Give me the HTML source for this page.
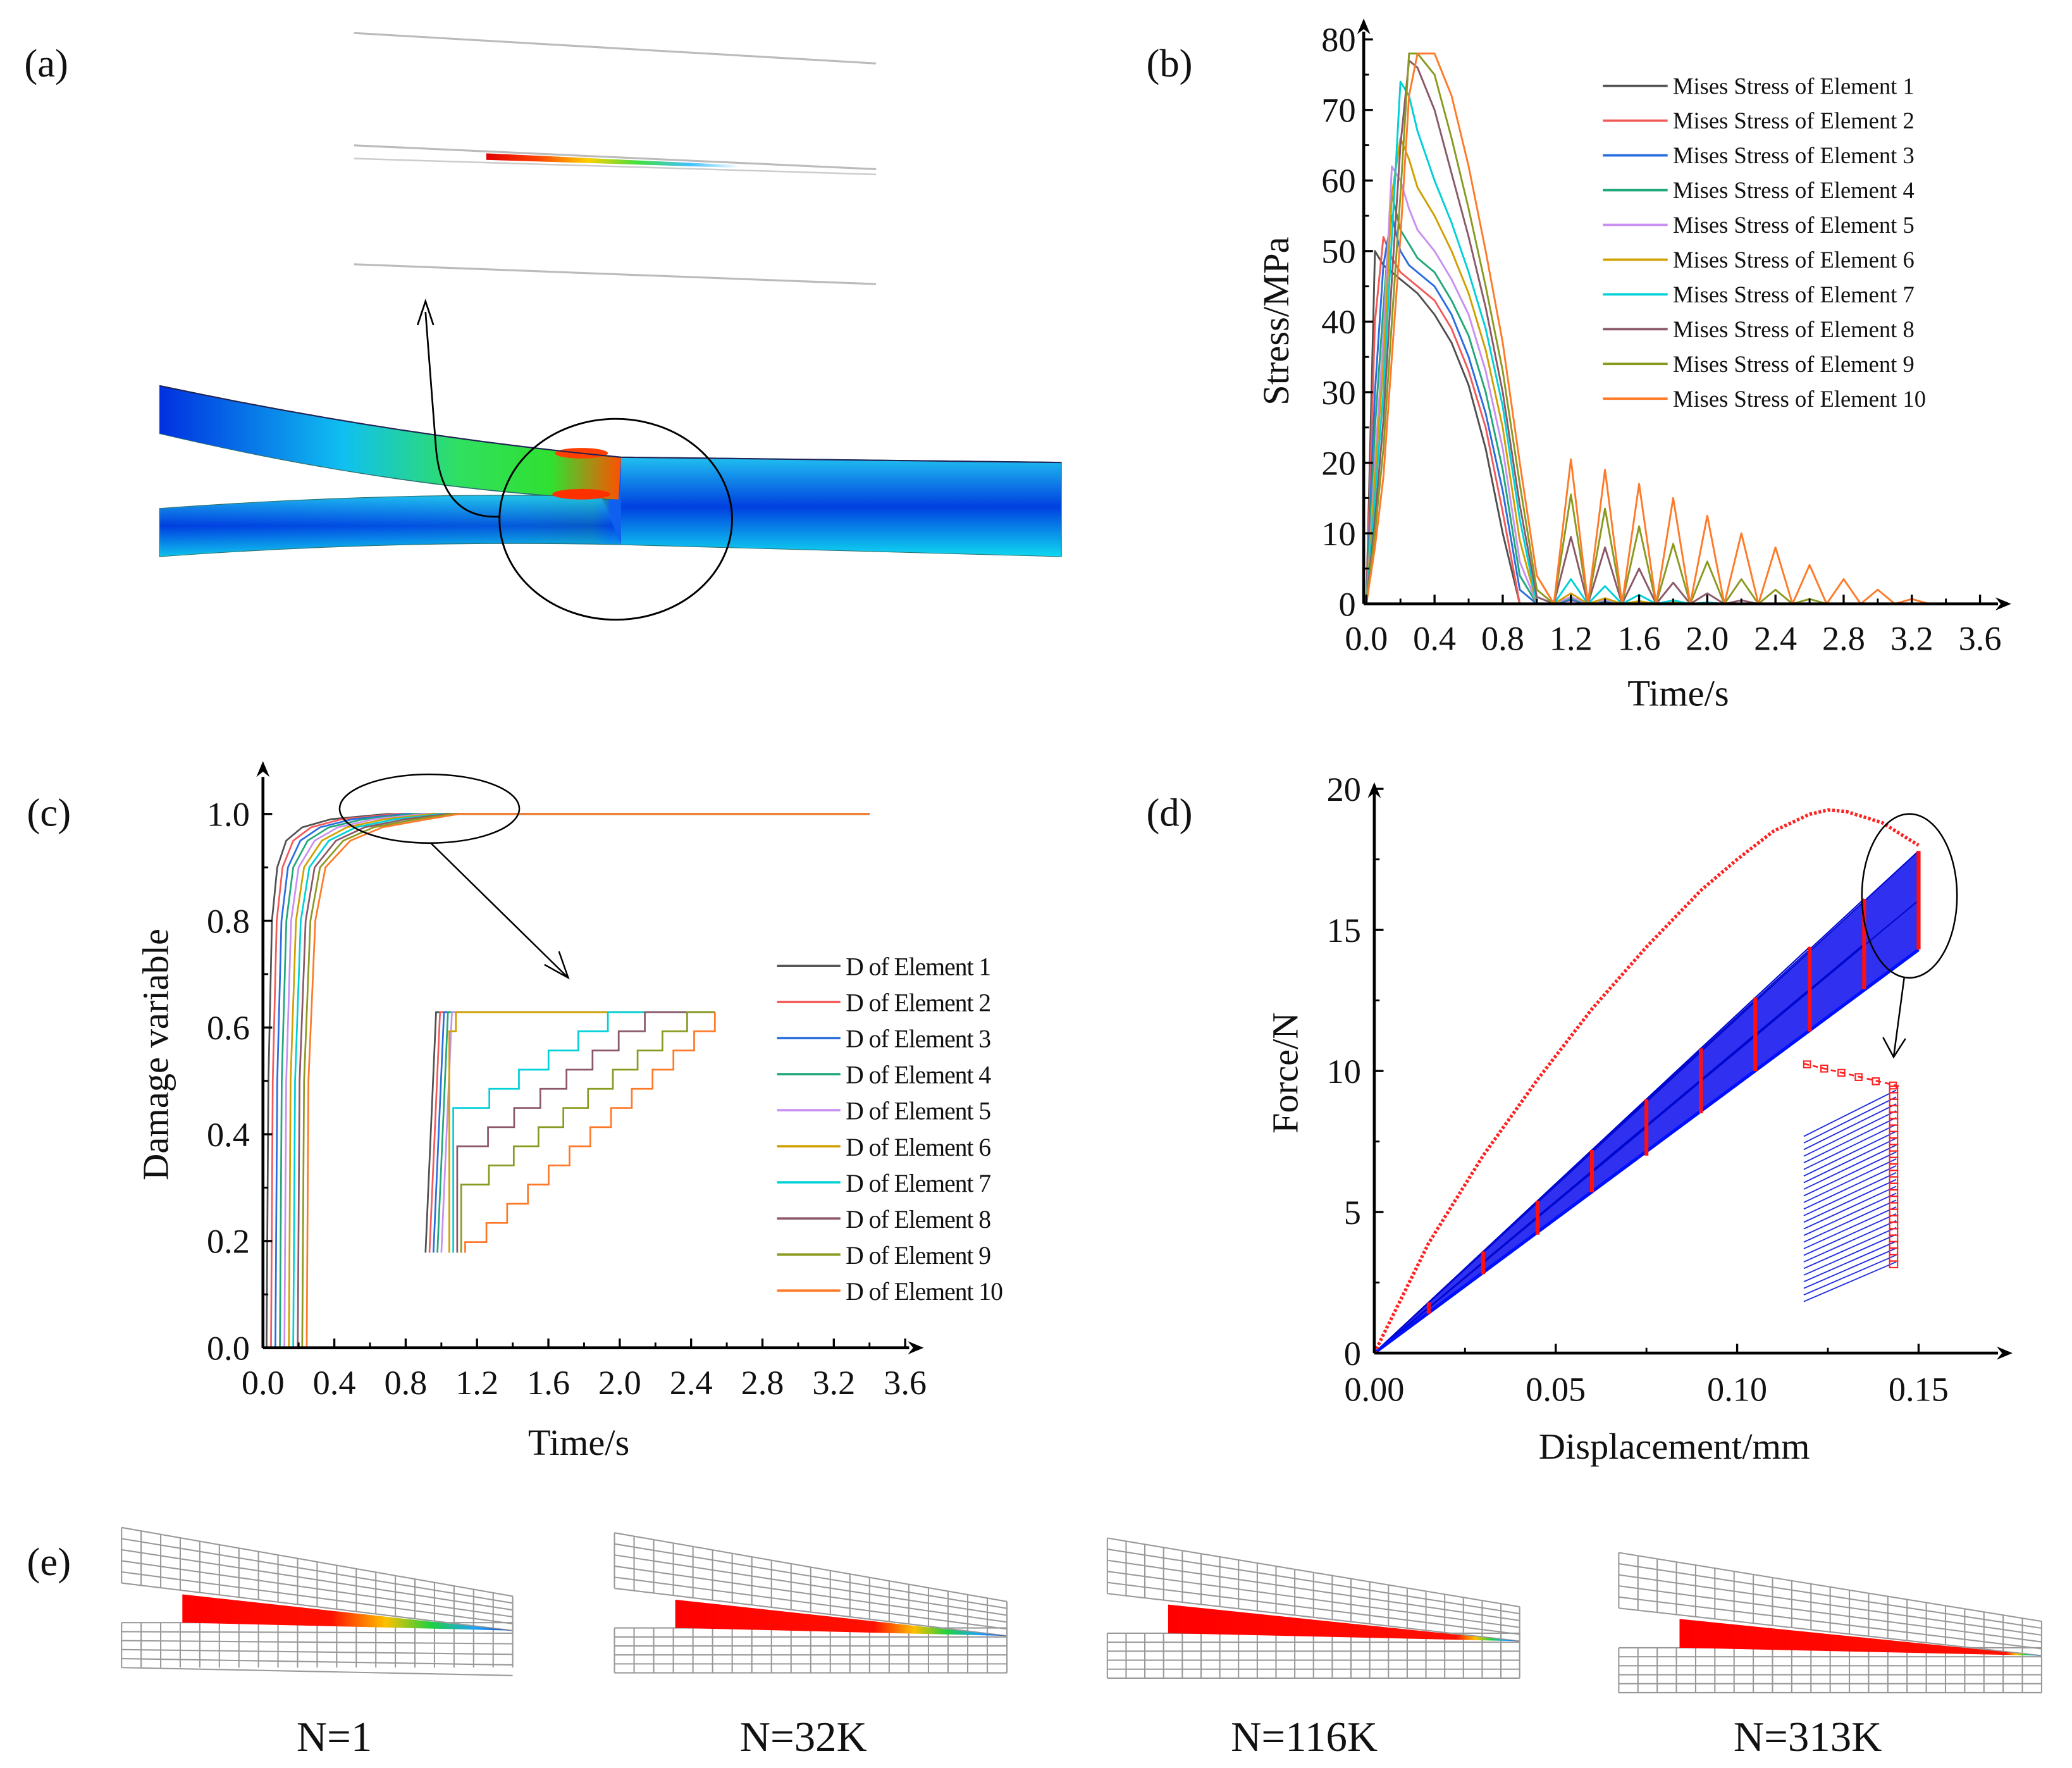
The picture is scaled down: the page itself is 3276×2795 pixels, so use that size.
<!DOCTYPE html>
<html><head><meta charset="utf-8"><style>
html,body{margin:0;padding:0;background:#fff;}
svg{display:block;font-family:"Liberation Serif",serif;}
</style></head><body>
<svg id="fig" xmlns="http://www.w3.org/2000/svg" width="3276" height="2795" viewBox="0 0 1568 1338" preserveAspectRatio="none">
<defs>
<linearGradient id="crackG" x1="0" x2="1" y1="0" y2="0">
<stop offset="0" stop-color="#e00000"/><stop offset="0.2" stop-color="#ff4000"/><stop offset="0.4" stop-color="#ffd000"/><stop offset="0.6" stop-color="#40e040"/><stop offset="0.8" stop-color="#40c0ff"/><stop offset="1" stop-color="#ffffff"/></linearGradient>
<linearGradient id="beamG" x1="0" x2="1" y1="0" y2="0">
<stop offset="0" stop-color="#0030e0"/><stop offset="0.25" stop-color="#10a0f0"/><stop offset="0.4" stop-color="#20e0c0"/><stop offset="0.48" stop-color="#30e040"/><stop offset="0.5" stop-color="#1060f0"/><stop offset="0.7" stop-color="#0050e8"/><stop offset="1" stop-color="#10e0f0"/></linearGradient>
<linearGradient id="armG" x1="0" x2="1" y1="0" y2="0">
<stop offset="0" stop-color="#0030e0"/><stop offset="0.4" stop-color="#10c0f0"/><stop offset="0.65" stop-color="#30e060"/><stop offset="0.85" stop-color="#30e030"/><stop offset="1" stop-color="#ff5000"/></linearGradient>
<linearGradient id="blockG" x1="0" x2="0" y1="0" y2="1">
<stop offset="0" stop-color="#20c0f0"/><stop offset="0.5" stop-color="#0040e0"/><stop offset="1" stop-color="#10d8f0"/></linearGradient>
</defs>
<g id="panelA"></g>
<g id="panelB"></g>
<g id="panelC"></g>
<g id="panelD"></g>
<g id="panelE"></g>
</svg>
<script>
// ---------- Chart (b) data ----------
const bTimes = [0,0.05,0.1,0.15,0.2,0.25,0.3,0.4,0.5,0.6,0.7,0.8,0.9,1.0,1.1];
const bE1 = [0,50,48,47,46,45,44,41,37,31,22,10,0,0,0];
const bE2 = [0,40,52,49,47,46,45,43,39,33,25,13,0,0,0];
const bE3 = [0,30,48,55,50,48,47,45,41,35,27,16,2,0,0];
const bE4 = [0,25,42,58,53,51,49,47,43,38,30,19,4,0,0];
const bE5 = [0,20,38,62,60,56,53,50,46,41,33,22,6,0,0];
const bE6 = [0,18,34,58,66,63,59,55,50,44,36,25,9,0,0];
const bE7 = [0,15,30,52,74,72,67,60,54,47,39,28,12,0,0];
const bE8 = [0,12,26,46,65,77,76,70,61,52,42,30,14,1,0];
const bE9 = [0,10,22,40,58,78,78,75,66,56,45,33,17,2,0];
const bE10 = [0,8,18,35,52,72,78,78,72,62,50,37,20,4,0];
const oscTimes = [1.2,1.4,1.6,1.8,2.0,2.2,2.4,2.6,2.8,3.0,3.2];
const oscE1 = [0.5,0.3,0,0,0,0,0,0,0,0,0];
const oscE2 = [0.5,0.3,0,0,0,0,0,0,0,0,0];
const oscE3 = [0.6,0.4,0.2,0,0,0,0,0,0,0,0];
const oscE4 = [0.8,0.5,0.3,0,0,0,0,0,0,0,0];
const oscE5 = [1,0.6,0.3,0,0,0,0,0,0,0,0];
const oscE6 = [1.5,0.8,0.4,0.2,0,0,0,0,0,0,0];
const oscE7 = [3.5,2.5,1.3,0.5,0.2,0,0,0,0,0,0];
const oscE8 = [9.5,8,5,3,1.5,0.5,0,0,0,0,0];
const oscE9 = [15.5,13.5,11,8.5,6,3.5,2,0.7,0,0,0];
const oscE10 = [20.5,19,17,15,12.5,10,8,5.5,3.5,2,0.7];
const bXTicks = ['0.0','0.4','0.8','1.2','1.6','2.0','2.4','2.8','3.2','3.6'];
const bYTicks = ['0','10','20','30','40','50','60','70','80'];
const colors = ['#505050','#f25a5a','#2a6de0','#20a878','#c890f0','#d0a000','#00d0d8','#8b5868','#8a9a20','#ff7a28'];

// ---------- Chart (c) data ----------
const cLevels = [0,0,0.5,0.8,0.9,0.95,0.975,0.99,1.0,1.0];
const cE1 = [0,0.02,0.03,0.05,0.08,0.13,0.22,0.38,0.7,3.4];
const cE2 = [0,0.045,0.055,0.077,0.11,0.17,0.27,0.44,0.75,3.4];
const cE3 = [0,0.07,0.08,0.104,0.14,0.21,0.32,0.5,0.8,3.4];
const cE4 = [0,0.095,0.105,0.131,0.17,0.25,0.37,0.56,0.85,3.4];
const cE5 = [0,0.12,0.13,0.158,0.2,0.29,0.42,0.62,0.9,3.4];
const cE6 = [0,0.145,0.155,0.185,0.23,0.33,0.47,0.68,0.95,3.4];
const cE7 = [0,0.17,0.18,0.212,0.26,0.37,0.52,0.74,1.0,3.4];
const cE8 = [0,0.195,0.205,0.239,0.29,0.41,0.57,0.8,1.03,3.4];
const cE9 = [0,0.22,0.23,0.266,0.32,0.45,0.62,0.86,1.06,3.4];
const cE10 = [0,0.245,0.255,0.293,0.35,0.49,0.67,0.92,1.1,3.4];
const cXTicks = ['0.0','0.4','0.8','1.2','1.6','2.0','2.4','2.8','3.2','3.6'];
const cYTicks = ['0.0','0.2','0.4','0.6','0.8','1.0'];
const cInsetSteps = [0,0,0,0,0,1,5,7,9,12];

// ---------- Chart (d) data ----------
const dDisp = [0,0.015,0.03,0.045,0.06,0.075,0.09,0.1,0.11,0.12,0.125,0.13,0.14,0.15];
const dForce = [0,3.9,7.0,9.7,12.2,14.4,16.4,17.5,18.5,19.1,19.25,19.2,18.8,18.0];
const cycleDisp = [0.015,0.03,0.045,0.06,0.075,0.09,0.105,0.12,0.135,0.15];
const cycleLow = [1.4,2.8,4.2,5.7,7.0,8.5,10.0,11.4,12.9,14.3];
const cycleHigh = [1.8,3.6,5.4,7.2,9.0,10.8,12.6,14.4,16.1,17.8];
const dXTicks = ['0.00','0.05','0.10','0.15'];
const dYTicks = ['0','5','10','15','20'];

const NS = 'http://www.w3.org/2000/svg';
function mk(tag, attrs, parent){ const e=document.createElementNS(NS,tag); for(const k in attrs) e.setAttribute(k, attrs[k]); parent.appendChild(e); return e; }
function txt(s, x, y, size, anchor, parent, extra){ const t=mk('text',Object.assign({x:x,y:y,'font-size':size,'text-anchor':anchor||'middle',fill:'#111'},extra||{}),parent); t.textContent=s; return t; }
function arrowHead(x,y,dir,parent){
  const p = dir==='up' ? `${x-5},${y+12} ${x},${y} ${x+5},${y+12} ${x},${y+8}` : `${x-12},${y-5} ${x},${y} ${x-12},${y+5} ${x-8},${y}`;
  return mk('polygon',{points:p,fill:'#000'},parent);
}

const fig = document.getElementById('fig');
[['(a)',35,58],['(b)',885,58],['(c)',37,625],['(d)',885,625],['(e)',37,1192]].forEach(l=>{
  const t = txt(l[0], l[1], l[2], 30, 'middle', fig);
  
  
});

// ================= Panel B =================
(function(){
  const g = document.getElementById('panelB');
  const xb = t => 1034 + t/0.4*51.6;
  const yb = v => 457 - v/10*53.4;
  const series = [[bE1,oscE1],[bE2,oscE2],[bE3,oscE3],[bE4,oscE4],[bE5,oscE5],[bE6,oscE6],[bE7,oscE7],[bE8,oscE8],[bE9,oscE9],[bE10,oscE10]];
  series.forEach((s,i)=>{
    const pts = bTimes.map((t,j)=>[t,s[0][j]]);
    oscTimes.forEach((t,j)=>{ pts.push([t-0.1,0]); pts.push([t,s[1][j]]); });
    pts.push([3.3,0]); pts.push([3.4,0]);
    const pl = mk('polyline',{points:pts.map(p=>xb(p[0]).toFixed(1)+','+yb(p[1]).toFixed(1)).join(' '),fill:'none',stroke:colors[i],'stroke-width':1.4,'stroke-linejoin':'round'},g);
    
    
  });
  const ax = mk('g',{},g);
  
  
  mk('line',{x1:1032,y1:457,x2:1032,y2:24,stroke:'#000','stroke-width':2.2},ax);
  arrowHead(1032,14,'up',ax);
  mk('line',{x1:1032,y1:457,x2:1512,y2:457,stroke:'#000','stroke-width':2.2},ax);
  arrowHead(1522,457,'right',ax);
  bXTicks.forEach((s,i)=>{ const x=xb(i*0.4); mk('line',{x1:x,y1:457,x2:x,y2:450,stroke:'#000','stroke-width':1.6},ax); const mx=xb(i*0.4+0.2); if(i<9) mk('line',{x1:mx,y1:457,x2:mx,y2:453,stroke:'#000','stroke-width':1.4},ax);
    const t=txt(s,x,492,26,'middle',ax);   });
  bYTicks.forEach((s,i)=>{ const y=yb(i*10); mk('line',{x1:1032,y1:y,x2:1039,y2:y,stroke:'#000','stroke-width':1.6},ax); if(i<8) mk('line',{x1:1032,y1:yb(i*10+5),x2:1036,y2:yb(i*10+5),stroke:'#000','stroke-width':1.4},ax);
    const t=txt(s,1026,y+9,26,'end',ax);   });
  const yt = txt('Stress/MPa',0,0,28,'middle',g,{transform:'translate(975,243) rotate(-90)'});
   
  const xt = txt('Time/s',1270,534,28,'middle',g);
   
  const lg = mk('g',{},g);
   
  colors.forEach((c,i)=>{ const y=65+i*26.3;
    const le = mk('g',{},lg);
     
    mk('line',{x1:1213,y1:y,x2:1262,y2:y,stroke:c,'stroke-width':1.8},le);
    txt('Mises Stress of Element '+(i+1),1266,y+6,17.5,'start',le);
  });
})();

// ================= Panel C =================
(function(){
  const g = document.getElementById('panelC');
  const xc = t => 199 + t/0.4*54;
  const yc = d => 1020 - d/0.2*80.8;
  const series=[cE1,cE2,cE3,cE4,cE5,cE6,cE7,cE8,cE9,cE10];
  series.forEach((s,i)=>{
    const pts = s.map((t,j)=>xc(t).toFixed(1)+','+yc(cLevels[j]).toFixed(1));
    const pl = mk('polyline',{points:pts.join(' '),fill:'none',stroke:colors[i],'stroke-width':1.3,'stroke-linejoin':'round'},g);
    
    
  });
  const ins = mk('g',{},g);
   
  cInsetSteps.forEach((n,i)=>{
    const bx = 322+3*i, topY=766, botY=948;
    let pts=[];
    if(n===0){ pts=[[bx,botY],[bx+8,topY],[541,topY]]; }
    else {
      const startY = topY + n*14.5; const endX = [0,0,0,0,0,345,460,488,520,541][i];
      const sx = bx+ (botY-startY)/(botY-topY)*8 + 3;
      pts=[[bx+3,botY],[bx+3,startY]];
      const dx=(endX-sx)/n, dy=(startY-topY)/n;
      let y=startY;
      for(let k=0;k<n;k++){ pts.push([sx+dx*k+dx,y]); y-=dy; pts.push([sx+dx*k+dx,y]); }
      pts.push([541,topY]);
    }
    const pl = mk('polyline',{points:pts.map(p=>p[0].toFixed(1)+','+p[1].toFixed(1)).join(' '),fill:'none',stroke:colors[i],'stroke-width':1.3},ins);
     
  });
  const el = mk('ellipse',{cx:325,cy:612,rx:68,ry:26,fill:'none',stroke:'#000','stroke-width':1.2},g);
   
  const ar = mk('path',{d:'M326,638 L430,740 M412,730 L430,740 L423,720',fill:'none',stroke:'#000','stroke-width':1.2},g);
   
  const ax = mk('g',{},g);
   
  mk('line',{x1:199,y1:1020,x2:199,y2:588,stroke:'#000','stroke-width':2.2},ax);
  arrowHead(199,576,'up',ax);
  mk('line',{x1:199,y1:1020,x2:688,y2:1020,stroke:'#000','stroke-width':2.2},ax);
  arrowHead(699,1020,'right',ax);
  cXTicks.forEach((s,i)=>{ const x=xc(i*0.4); mk('line',{x1:x,y1:1020,x2:x,y2:1013,stroke:'#000','stroke-width':1.6},ax); if(i<9){const mx=xc(i*0.4+0.2); mk('line',{x1:mx,y1:1020,x2:mx,y2:1016,stroke:'#000','stroke-width':1.4},ax);}
    const t=txt(s,x,1055,26,'middle',ax);   });
  cYTicks.forEach((s,i)=>{ const y=yc(i*0.2); mk('line',{x1:199,y1:y,x2:206,y2:y,stroke:'#000','stroke-width':1.6},ax); if(i<5) mk('line',{x1:199,y1:yc(i*0.2+0.1),x2:203,y2:yc(i*0.2+0.1),stroke:'#000','stroke-width':1.4},ax);
    const t=txt(s,189,y+9,26,'end',ax);   });
  const yt = txt('Damage variable',0,0,28,'middle',g,{transform:'translate(127,798) rotate(-90)'});
   
  const xt = txt('Time/s',438,1101,28,'middle',g);
   
  const lg = mk('g',{},g);
   
  colors.forEach((c,i)=>{ const y=731+i*27.3;
    const le = mk('g',{},lg);
     
    mk('line',{x1:588,y1:y,x2:636,y2:y,stroke:c,'stroke-width':1.8},le);
    txt('D of Element '+(i+1),640,y+7,19,'start',le,{'letter-spacing':'-0.5'});
  });
})();

// ================= Panel D =================
(function(){
  const g = document.getElementById('panelD');
  const xd = x => 1040 + x/0.05*137.3;
  const yd = f => 1024 - f/5*106.75;
  const n = cycleDisp.length-1;
  const fan = mk('polygon',{points:`${xd(0)},${yd(0)} ${xd(cycleDisp[n])},${yd(cycleHigh[n])} ${xd(cycleDisp[n])},${yd(cycleLow[n])}`,fill:'#1a1aee',opacity:0.9},g);
   
  const fl = mk('g',{},g);
   
  cycleDisp.forEach((d,i)=>{
    mk('line',{x1:xd(0),y1:yd(0),x2:xd(d),y2:yd(cycleHigh[i]),stroke:'#0008d0','stroke-width':1},fl);
    mk('line',{x1:xd(0),y1:yd(0),x2:xd(d),y2:yd((cycleHigh[i]+cycleLow[i])/2),stroke:'#0008d0','stroke-width':1},fl);
  });
  mk('line',{x1:xd(0),y1:yd(0),x2:xd(cycleDisp[n]),y2:yd(cycleLow[n]),stroke:'#0010ff','stroke-width':2.5},fl);
  cycleDisp.forEach((d,i)=>{
    const b = mk('line',{x1:xd(d),y1:yd(cycleLow[i]),x2:xd(d),y2:yd(cycleHigh[i]),stroke:'#ff1010','stroke-width':3},g);
     
  });
  const pts = dDisp.map((d,i)=>xd(d).toFixed(1)+','+yd(dForce[i]).toFixed(1)).join(' ');
  const env = mk('polyline',{points:pts,fill:'none',stroke:'#ff2020','stroke-width':2.6,'stroke-dasharray':'2 1.5'},g);
   
  const ins = mk('g',{},g);
   
  for(let k=0;k<26;k++){ const yl=860+k*5, yr=825+k*5.2; mk('line',{x1:1365,y1:yl,x2:1435,y2:yr,stroke:'#2030e0','stroke-width':0.9},ins); }
  mk('path',{d:'M1365,805 L1437,822',stroke:'#ff2020','stroke-width':1.3,fill:'none','stroke-dasharray':'4 3'},ins);
  for(let k=0;k<6;k++) mk('rect',{x:1365+k*13,y:803+k*3.2,width:5,height:5,fill:'none',stroke:'#ff2020','stroke-width':1},ins);
  for(let k=0;k<28;k++) mk('rect',{x:1430,y:822+k*4.9,width:6,height:5,fill:'none',stroke:'#ff2020','stroke-width':1},ins);
  const el = mk('ellipse',{cx:1445,cy:678,rx:36,ry:62,fill:'none',stroke:'#000','stroke-width':1.2},g);
   
  const ar = mk('path',{d:'M1441,740 L1433,800 M1425,785 L1433,800 L1442,786',fill:'none',stroke:'#000','stroke-width':1.2},g);
   
  const ax = mk('g',{},g);
   
  mk('line',{x1:1040,y1:1024,x2:1040,y2:600,stroke:'#000','stroke-width':2.2},ax);
  arrowHead(1040,592,'up',ax);
  mk('line',{x1:1040,y1:1024,x2:1512,y2:1024,stroke:'#000','stroke-width':2.2},ax);
  arrowHead(1523,1024,'right',ax);
  dXTicks.forEach((s,i)=>{ const x=xd(i*0.05); mk('line',{x1:x,y1:1024,x2:x,y2:1017,stroke:'#000','stroke-width':1.6},ax); const mx=xd(i*0.05+0.025); if(mx<1510) mk('line',{x1:mx,y1:1024,x2:mx,y2:1020,stroke:'#000','stroke-width':1.4},ax);
    const t=txt(s,x,1060,26,'middle',ax);   });
  dYTicks.forEach((s,i)=>{ const y=yd(i*5); mk('line',{x1:1040,y1:y,x2:1047,y2:y,stroke:'#000','stroke-width':1.6},ax); if(i<4) mk('line',{x1:1040,y1:yd(i*5+2.5),x2:1044,y2:yd(i*5+2.5),stroke:'#000','stroke-width':1.4},ax);
    const t=txt(s,1030,y+9,26,'end',ax);   });
  const yt = txt('Force/N',0,0,28,'middle',g,{transform:'translate(982,812) rotate(-90)'});
   
  const xt = txt('Displacement/mm',1267,1104,28,'middle',g);
   
})();

// ================= Panel A =================
(function(){
  const g = document.getElementById('panelA');
  const top = mk('g',{},g);
   
  mk('line',{x1:268,y1:25,x2:663,y2:48,stroke:'#bbb','stroke-width':1.5},top);
  mk('line',{x1:268,y1:110,x2:663,y2:128,stroke:'#bbb','stroke-width':1.5},top);
  mk('line',{x1:268,y1:120,x2:663,y2:132,stroke:'#ccc','stroke-width':1.2},top);
  mk('line',{x1:268,y1:200,x2:663,y2:215,stroke:'#bbb','stroke-width':1.5},top);
  mk('polygon',{points:'368,116 560,125 560,127 368,121',fill:'url(#crackG)'},top);
  const beams = mk('g',{},g);
   
  mk('path',{d:'M121,292 Q300,330 470,346 L803,350 L803,421 L470,412 Q300,408 121,421 L121,385 Q300,372 455,376 L462,378 Q300,370 121,328 Z',fill:'url(#beamG)',stroke:'#2a7070','stroke-width':1},beams);
  mk('path',{d:'M121,292 Q300,330 470,346 L468,378 Q300,370 121,328 Z',fill:'url(#armG)'},beams);
  mk('path',{d:'M121,385 Q300,372 455,376 L470,412 Q300,408 121,421 Z',fill:'url(#blockG)',opacity:0.85},beams);
  mk('path',{d:'M470,346 L803,350 L803,421 L470,412 Z',fill:'url(#blockG)'},beams);
  mk('ellipse',{cx:440,cy:343,rx:20,ry:4,fill:'#ff4000'},beams);
  mk('ellipse',{cx:440,cy:374,rx:22,ry:4,fill:'#ff3000'},beams);
  mk('path',{d:'M121,292 Q300,330 470,346 L803,350',fill:'none',stroke:'#225','stroke-width':1},beams);
  const el = mk('ellipse',{cx:466,cy:393,rx:88,ry:76,fill:'none',stroke:'#000','stroke-width':1.4},g);
   
  const ar = mk('path',{d:'M378,391 Q335,393 330,340 L322,236 M316,246 L322,228 L328,246',fill:'none',stroke:'#000','stroke-width':1.3},g);
   
})();

// ================= Panel E =================
const eLabels = ['N=1','N=32K','N=116K','N=313K'];
const eRedFrac = [0.45,0.6,0.82,0.9];
(function(){
  const g = document.getElementById('panelE');
  const boxes = [[92,388,1158,253],[465,762,1162,608],[838,1150,1166,987],[1225,1545,1177,1368]];
  boxes.forEach((b,i)=>{
    const [x0,x1,y0,lx] = b;
    const m = mk('g',{},g);
     
    const w=x1-x0, ncol=Math.round(w/14.5);
    const upTopL=y0-2, upTopR=y0+50, upBotL=y0+40, upBotR=y0+76;
    const lowT=y0+70, lowB=y0+104;
    for(let r=0;r<=5;r++){ const f=r/5; mk('line',{x1:x0,y1:upTopL+(upBotL-upTopL)*f,x2:x1,y2:upTopR+(upBotR-upTopR)*f,stroke:'#999','stroke-width':1},m);
      mk('line',{x1:x0,y1:lowT+(lowB-lowT)*f,x2:x1,y2:lowT+(lowB-lowT)*f+(i===0?f*6:0),stroke:'#999','stroke-width':1},m); }
    for(let c=0;c<=ncol;c++){ const x=x0+w*c/ncol, f=c/ncol;
      mk('line',{x1:x,y1:upTopL+(upTopR-upTopL)*f,x2:x,y2:upBotL+(upBotR-upBotL)*f,stroke:'#999','stroke-width':1},m);
      mk('line',{x1:x,y1:lowT,x2:x,y2:lowB,stroke:'#999','stroke-width':1},m); }
    const wx0 = x0+46, tipX=x1;
    const gid='wedge'+i;
    const lgd = mk('linearGradient',{id:gid,x1:0,x2:1,y1:0,y2:0},g);
    const rf=eRedFrac[i];
    [[0,'#ff0000'],[rf,'#ff1000'],[rf+(1-rf)*0.3,'#ffc000'],[rf+(1-rf)*0.55,'#20d040'],[rf+(1-rf)*0.8,'#20a0ff'],[1,'#2040a0']].forEach(s=>mk('stop',{offset:Math.min(s[0],1),'stop-color':s[1]},lgd));
    const yTopL = upBotL+(upBotR-upBotL)*(46/w);
    const wd = mk('polygon',{points:`${wx0},${yTopL+3} ${wx0},${lowT} ${tipX},${lowT+6} `,fill:`url(#${gid})`},m);
     
    const t = txt(eLabels[i],lx,1325,32,'middle',g);
     
  });
})();
</script>
</body></html>
